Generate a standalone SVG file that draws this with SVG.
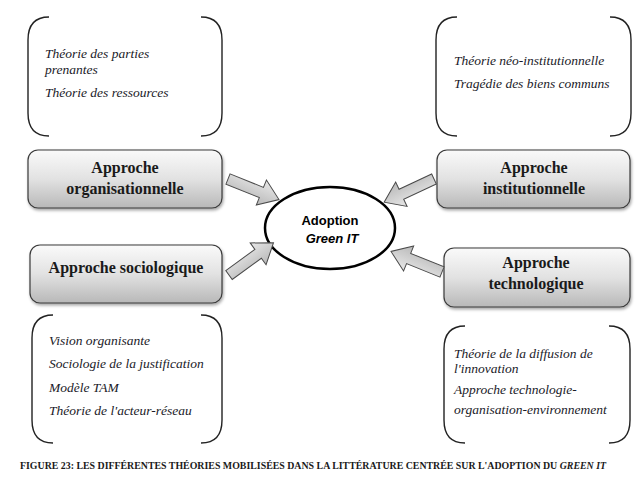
<svg xmlns="http://www.w3.org/2000/svg" xmlns:xlink="http://www.w3.org/1999/xlink" width="636" height="481" viewBox="0 0 636 481">
<style>
.br{fill:none;stroke:#222;stroke-width:1.4}
.it{font-family:"Liberation Serif",serif;font-style:italic;font-size:13.5px;fill:#1a1a28}
.bx{fill:url(#gBox);stroke:#3a3a3a;stroke-width:1.2;filter:url(#sh)}
.bt{font-family:"Liberation Serif",serif;font-weight:bold;font-size:16px;fill:#1a1a1a;text-anchor:middle}
.ar{fill:url(#gArr);stroke:#4a4a4a;stroke-width:1}
.ct{font-family:"Liberation Sans",sans-serif;font-weight:bold;font-size:13px;fill:#000;text-anchor:middle}
.cap{font-family:"Liberation Serif",serif;font-weight:bold;font-size:9.5px;fill:#1a1a1a}
</style>
<defs>
<linearGradient id="gBox" x1="0" y1="0" x2="0" y2="1">
<stop offset="0" stop-color="#fafafa"/>
<stop offset="0.5" stop-color="#e2e2e2"/>
<stop offset="1" stop-color="#b8b8b8"/>
</linearGradient>
<linearGradient id="gArr" x1="0" y1="0" x2="0" y2="1">
<stop offset="0" stop-color="#e8e8e8"/>
<stop offset="1" stop-color="#b8b8b8"/>
</linearGradient>
<filter id="sh" x="-10%" y="-10%" width="120%" height="140%">
<feDropShadow dx="1" dy="2" stdDeviation="1.5" flood-color="#000" flood-opacity="0.35"/>
</filter>
<path id="arrow" d="M0,-5.5 L36,-5.5 L36,-13.5 L55,0 L36,13.5 L36,5.5 L0,5.5 Z"/>
</defs>
<rect x="0" y="0" width="636" height="481" fill="#fff"/>

<g id="theories-organisationnelle">
<path class="br" d="M49,17 Q28,17 28,40 L28,113 Q28,136 49,136"/>
<path class="br" d="M201,17 Q222,17 222,40 L222,113 Q222,136 201,136"/>
<text class="it" x="45" y="58">Théorie des parties</text>
<text class="it" x="45" y="74">prenantes</text>
<text class="it" x="45" y="97">Théorie des ressources</text>
</g>

<g id="theories-institutionnelle">
<path class="br" d="M457,17 Q436,17 436,40 L436,113 Q436,136 457,136"/>
<path class="br" d="M610,17 Q631,17 631,40 L631,113 Q631,136 610,136"/>
<text class="it" x="454" y="65">Théorie néo-institutionnelle</text>
<text class="it" x="454" y="88">Tragédie des biens communs</text>
</g>

<g id="approche-organisationnelle">
<rect class="bx" x="28" y="150" width="194" height="58" rx="10"/>
<text class="bt" x="125" y="173">Approche</text>
<text class="bt" x="125" y="194">organisationnelle</text>
</g>

<g id="approche-institutionnelle">
<rect class="bx" x="437" y="150" width="193" height="58" rx="10"/>
<text class="bt" x="534" y="173">Approche</text>
<text class="bt" x="534" y="194">institutionnelle</text>
</g>

<g id="approche-sociologique">
<rect class="bx" x="30" y="245" width="192" height="58" rx="10"/>
<text class="bt" x="126" y="273">Approche sociologique</text>
</g>

<g id="approche-technologique">
<rect class="bx" x="444" y="248" width="186" height="59" rx="10"/>
<text class="bt" x="536" y="268">Approche</text>
<text class="bt" x="536" y="289">technologique</text>
</g>

<g id="theories-sociologique">
<path class="br" d="M53,315 Q32,315 32,338 L32,420 Q32,443 53,443"/>
<path class="br" d="M201,315 Q222,315 222,338 L222,420 Q222,443 201,443"/>
<text class="it" x="49" y="345">Vision organisante</text>
<text class="it" x="49" y="368">Sociologie de la justification</text>
<text class="it" x="49" y="392">Modèle TAM</text>
<text class="it" x="49" y="415">Théorie de l'acteur-réseau</text>
</g>

<g id="theories-technologique">
<path class="br" d="M465,326 Q444,326 444,349 L444,420 Q444,443 465,443"/>
<path class="br" d="M609,326 Q630,326 630,349 L630,420 Q630,443 609,443"/>
<text class="it" x="454" y="358">Théorie de la diffusion de</text>
<text class="it" x="454" y="373">l'innovation</text>
<text class="it" x="454" y="394">Approche technologie-</text>
<text class="it" x="454" y="414">organisation-environnement</text>
</g>

<g id="adoption">
<ellipse cx="330" cy="228" rx="65" ry="41" fill="#fff" stroke="#000" stroke-width="2.5"/>
<text class="ct" x="330" y="225">Adoption</text>
<text class="ct" x="332" y="243" font-style="italic">Green IT</text>
</g>

<g id="connectors">
<use xlink:href="#arrow" class="ar" transform="translate(228,179) rotate(22)"/>
<use xlink:href="#arrow" class="ar" transform="translate(434,179) rotate(155)"/>
<use xlink:href="#arrow" class="ar" transform="translate(229,275) rotate(-36)"/>
<use xlink:href="#arrow" class="ar" transform="translate(442,272) rotate(202)"/>
</g>

<text class="cap" x="20" y="469" textLength="586" lengthAdjust="spacingAndGlyphs">FIGURE 23: LES DIFFÉRENTES THÉORIES MOBILISÉES DANS LA LITTÉRATURE CENTRÉE SUR L'ADOPTION DU <tspan font-style="italic">GREEN IT</tspan></text>
</svg>
